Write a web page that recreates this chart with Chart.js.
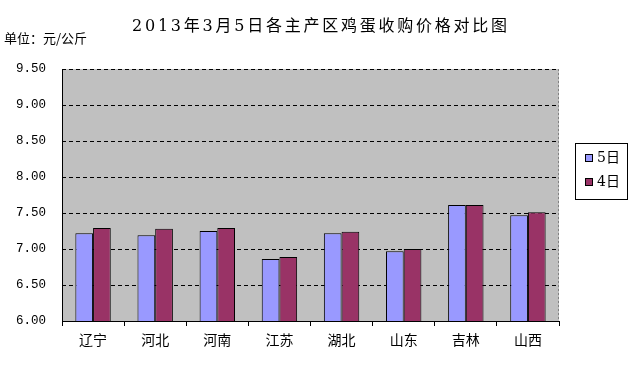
<!DOCTYPE html>
<html>
<head>
<meta charset="utf-8">
<script src="https://cdn.jsdelivr.net/npm/chart.js@4"></script>
<style>
  html, body { margin: 0; padding: 0; background: #ffffff; }
  #chart { display: block; }
</style>
</head>
<body>
<canvas id="chart" width="636" height="371"></canvas>
<script>
// --- Data ---
const categories = ["辽宁", "河北", "河南", "江苏", "湖北", "山东", "吉林", "山西"];
const seriesNames = ["5日", "4日"];
const values5 = [7.22, 7.19, 7.25, 6.86, 7.22, 6.97, 7.61, 7.47];
const values4 = [7.29, 7.28, 7.29, 6.89, 7.24, 7.00, 7.61, 7.51];
const yTicks = [6.0, 6.5, 7.0, 7.5, 8.0, 8.5, 9.0, 9.5];
const chartTitle = "2013年3月5日各主产区鸡蛋收购价格对比图";
const unitLabel = "单位：元/公斤";

const barColors = ["#9999ff", "#993366"];

// background, borders, title and the boxed legend
const framePlugin = {
    id: "frame",
    beforeDraw(chart) {
        const { ctx, chartArea: a } = chart;
        ctx.save();
        ctx.fillStyle = "#c0c0c0";
        ctx.fillRect(a.left, a.top, a.right - a.left, a.bottom - a.top);
        ctx.restore();
    },
    afterDatasetsDraw(chart) {
        const { ctx, chartArea: a } = chart;
        ctx.save();
        // right border dotted gray
        ctx.strokeStyle = "#808080";
        ctx.lineWidth = 1;
        ctx.setLineDash([2, 2]);
        ctx.beginPath();
        ctx.moveTo(a.right - 0.5, a.top);
        ctx.lineTo(a.right - 0.5, a.bottom);
        ctx.stroke();
        // left + bottom solid axes
        ctx.setLineDash([]);
        ctx.strokeStyle = "#000000";
        ctx.beginPath();
        ctx.moveTo(a.left + 0.5, a.top);
        ctx.lineTo(a.left + 0.5, a.bottom + 0.5);
        ctx.lineTo(a.right, a.bottom + 0.5);
        ctx.stroke();
        ctx.restore();
    },
    afterDraw(chart) {
        const { ctx } = chart;
        ctx.save();
        ctx.fillStyle = "#000000";
        ctx.textBaseline = "middle";

        // title, spread out to the width it has in the original
        ctx.textAlign = "left";
        ctx.font = "16px 'DejaVu Serif', 'Noto Sans CJK SC'";
        const w = ctx.measureText(chartTitle).width;
        const spacing = Math.max(0, (375 - w) / (chartTitle.length - 1));
        ctx.letterSpacing = spacing.toFixed(2) + "px";
        ctx.fillText(chartTitle, 132, 27);
        ctx.letterSpacing = "0px";

        ctx.font = "13px 'Noto Sans CJK SC'";
        ctx.fillText(unitLabel, 4, 38);

        // legend box
        ctx.strokeStyle = "#000000";
        ctx.lineWidth = 1;
        ctx.strokeRect(575.5, 143.5, 52, 56);
        ctx.font = "14px 'DejaVu Serif', 'Noto Sans CJK SC'";
        seriesNames.forEach((name, i) => {
            const y = 158 + i * 24;
            ctx.fillStyle = barColors[i];
            ctx.fillRect(585, y - 4, 8, 8);
            ctx.strokeRect(585.5, y - 3.5, 7, 7);
            ctx.fillStyle = "#000000";
            ctx.fillText(name, 597, y);
        });
        ctx.restore();
    }
};

const ctx = document.getElementById("chart");
new Chart(ctx, {
    type: "bar",
    data: {
        labels: categories,
        datasets: [
            {
                label: seriesNames[0],
                data: values5,
                backgroundColor: barColors[0],
                borderColor: "#000000",
                borderWidth: 1,
                borderSkipped: "bottom"
            },
            {
                label: seriesNames[1],
                data: values4,
                backgroundColor: barColors[1],
                borderColor: "#000000",
                borderWidth: 1,
                borderSkipped: "bottom"
            }
        ]
    },
    options: {
        responsive: false,
        animation: false,
        layout: { padding: { left: 0, right: 77, top: 69, bottom: 0 } },
        datasets: { bar: { categoryPercentage: 0.57, barPercentage: 1.0 } },
        plugins: {
            legend: { display: false },
            title: { display: false },
            tooltip: { enabled: false }
        },
        scales: {
            x: {
                afterFit(scale) { scale.height = 50; },
                border: { display: false },
                grid: {
                    offset: true,
                    drawOnChartArea: false,
                    drawTicks: true,
                    tickLength: 5,
                    color: "#000000"
                },
                ticks: {
                    color: "#000000",
                    padding: 5,
                    font: { family: "'Noto Sans CJK SC'", size: 14 }
                }
            },
            y: {
                min: yTicks[0],
                max: yTicks[yTicks.length - 1],
                afterFit(scale) { scale.width = 62; },
                afterBuildTicks(scale) {
                    scale.ticks = yTicks.map(v => ({ value: v }));
                },
                border: { display: false, dash: [4, 3] },
                grid: {
                    drawTicks: false,
                    color: "#000000",
                    lineWidth: 1
                },
                ticks: {
                    color: "#000000",
                    padding: 16,
                    font: { family: "'Liberation Mono'", size: 12.5 },
                    callback: v => Number(v).toFixed(2)
                }
            }
        }
    },
    plugins: [framePlugin]
});
</script>
</body>
</html>
